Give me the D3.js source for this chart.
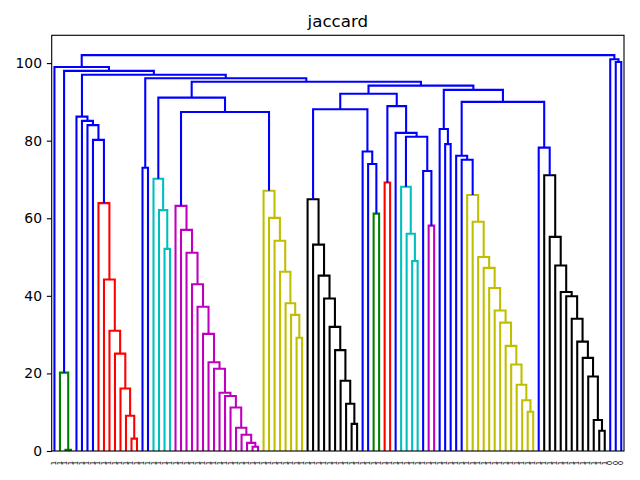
<!DOCTYPE html>
<html><head><meta charset="utf-8">
<script src="https://cdn.jsdelivr.net/npm/d3@7"></script>
<style>body{margin:0;background:#fff}svg{display:block}</style>
</head><body><svg id="c" width="640" height="480"></svg>
<script>
const title = "jaccard";
const leafLabels = [
  "1","1","1","1","1","1","1","1","1","1","1","1","1","1","1","1","1","1","1","1",
  "1","1","1","1","1","1","1","1","1","1","1","1","1","1","1","1","1","1","1","1",
  "1","1","1","1","1","1","1","1","1","1","1","1","1","1","1","1","1","1","1","1",
  "1","1","1","1","1","1","1","1","1","1","1","1","1","1","1","1","1","1","1","1",
  "1","1","1","1","1","1","1","1","1","1","1","1","1","1","1","1","1","1","1","1",
  "1","0","0","0"
];
// links: [left child, right child, height]; ids < 104 are leaves (display order), id 104+k is link k
const merges = [
  [2,3,0.3],[1,104,20.2],
  [14,15,3.2],[13,106,9.1],[12,107,16.1],[11,108,25.1],[10,109,31.0],[9,110,44.2],[8,111,63.9],
  [7,112,80.2],[6,113,84.0],[5,114,85.1],[4,115,86.2],
  [16,17,73.0],
  [20,21,52.1],[19,118,62.1],[18,119,70.2],
  [36,37,1.1],[35,121,2.1],[34,122,4.2],[33,123,6.0],[32,124,11.2],[31,125,14.2],[30,126,15.0],
  [29,127,21.2],[28,128,22.9],[27,129,30.2],[26,130,37.2],[25,131,43.0],[24,132,51.1],[23,133,57.0],[22,134,63.2],
  [44,45,29.2],[43,136,35.1],[42,137,38.1],[41,138,46.2],[40,139,54.2],[39,140,60.1],[38,141,67.1],
  [135,142,87.4],[120,143,91.1],
  [54,55,7.0],[53,145,12.2],[52,146,18.1],[51,147,26.0],[50,148,32.0],[49,149,39.3],[48,150,45.2],[47,151,53.2],[46,152,64.9],
  [58,59,61.2],[57,154,74.0],[56,155,77.2],[153,156,88.1],
  [60,61,69.2],
  [65,66,49.0],[64,159,56.0],[63,160,68.1],
  [68,69,58.1],[67,162,72.2],[161,163,81.0],[62,164,82.0],[158,165,88.9],[157,166,92.1],
  [71,72,79.1],[70,168,83.0],
  [86,87,10.1],[85,170,13.1],[84,171,17.1],[83,172,22.3],[82,173,27.1],[81,174,33.1],[80,175,36.2],
  [79,176,42.0],[78,177,47.2],[77,178,50.0],[76,179,59.1],[75,180,66.0],[74,181,75.1],[73,182,76.1],
  [99,100,5.2],[98,184,8.0],[97,185,19.2],[96,186,24.0],[95,187,28.2],[94,188,34.1],[93,189,39.9],
  [92,190,41.0],[91,191,47.8],[90,192,55.2],[89,193,71.1],[88,194,78.2],
  [183,195,90.0],[169,196,93.1],[167,197,94.2],[144,198,95.2],[117,199,96.1],[116,200,97.0],[105,201,98.0],[0,202,99.0],
  [102,103,100.3],[101,204,101.0],
  [203,205,102.06]
];
const yTicks = [0,20,40,60,80,100];

const palette = ["#008000","#ff0000","#00bfbf","#bf00bf","#bfbf00","#000000"];
const aboveColor = "#0000ff";

const svg = d3.select("#c");
const m = {left:51.7, right:624, top:35.3, bottom:451};
const n = leafLabels.length;
const maxH = d3.max(merges, d => d[2]);
const x = d3.scaleLinear().domain([0, 10*n]).range([m.left, m.right]);
const y = d3.scaleLinear().domain([0, maxH*1.05]).range([m.bottom, m.top]);

const posCache = {};
function pos(id){
  if (id < n) return 10*id + 5;
  if (posCache[id] != null) return posCache[id];
  const [a,b] = merges[id-n];
  return posCache[id] = (pos(a)+pos(b))/2;
}
function hgt(id){ return id < n ? 0 : merges[id-n][2]; }

const thr = 0.7*maxH;
const linkColor = {};
let ci = 0;
function assign(id, col){
  if (id < n) return;
  const [a,b,h] = merges[id-n];
  let c = col;
  if (c == null && h < thr) c = palette[(ci++) % palette.length];
  linkColor[id] = c == null ? aboveColor : c;
  assign(a, c); assign(b, c);
}
const root = n + merges.length - 1;
assign(root, null);

const line = d3.line().x(d => x(d[0])).y(d => y(d[1]));
const g = svg.append("g");
merges.forEach((mg, k) => {
  const id = n + k;
  const [a,b,h] = mg;
  const pts = [[pos(a),hgt(a)],[pos(a),h],[pos(b),h],[pos(b),hgt(b)]];
  g.append("path").attr("d", line(pts)).attr("fill","none")
    .attr("stroke", linkColor[id]).attr("stroke-width", 2.08)
    .attr("stroke-linejoin","miter").attr("stroke-linecap","butt");
});

// y axis
const yAxis = d3.axisLeft(y).tickValues(yTicks).tickSize(4.86).tickPadding(4.86).tickSizeOuter(0);
const ya = svg.append("g").attr("transform", `translate(${m.left},0)`).call(yAxis);
ya.select(".domain").remove();
ya.selectAll(".tick line").attr("stroke","#000").attr("stroke-width",1.11);
ya.selectAll(".tick text").attr("font-family","DejaVu Sans").attr("font-size","13.9px").attr("fill","#000");

// x leaf labels
const xa = svg.append("g");
leafLabels.forEach((lab, i) => {
  xa.append("text")
    .attr("transform", `translate(${x(10*i+5)},${m.bottom+9.72}) rotate(-90)`)
    .attr("text-anchor","end").attr("dominant-baseline","central")
    .attr("font-family","DejaVu Sans").attr("font-size","6.94px").attr("fill","#000")
    .text(lab);
});

// spines
svg.append("rect").attr("x", m.left).attr("y", m.top)
  .attr("width", m.right-m.left).attr("height", m.bottom-m.top)
  .attr("fill","none").attr("stroke","#000").attr("stroke-width",1.11);

// title
svg.append("text").attr("x",(m.left+m.right)/2).attr("y",27)
  .attr("text-anchor","middle").attr("font-family","DejaVu Sans").attr("font-size","16.7px")
  .attr("fill","#000").text(title);
</script>
</body></html>
